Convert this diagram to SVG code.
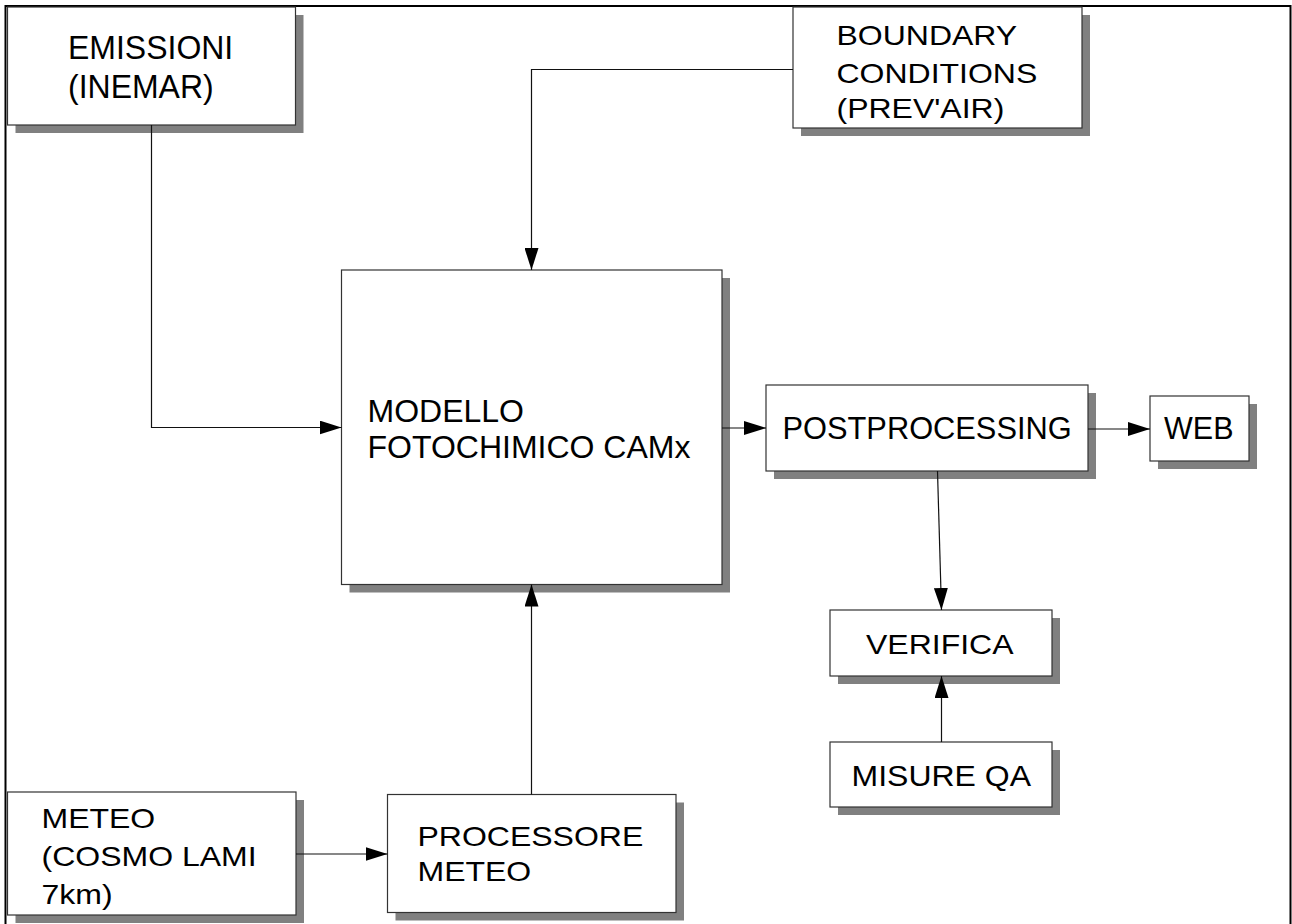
<svg xmlns="http://www.w3.org/2000/svg" width="1292" height="924" viewBox="0 0 1292 924">
<style>
.box{fill:#fff;stroke:#333;stroke-width:1.2}
.sh{fill:#808080}
.t{font-family:"Liberation Sans",Arial,sans-serif;font-size:32px;fill:#000}
.c{fill:none;stroke:#111;stroke-width:1.2}
</style>
<defs>
<marker id="ah" viewBox="0 0 22 14" refX="22" refY="7" markerWidth="22" markerHeight="14" orient="auto" markerUnits="userSpaceOnUse">
<path d="M0,0 L22,7 L0,14 Z" fill="#000"/>
</marker>
</defs>
<rect width="1292" height="924" fill="#fff"/>
<path d="M5.5,930 V6 H1290.5 V930" fill="none" stroke="#000" stroke-width="2"/>

<g id="emissioni">
<rect class="sh" x="15.5" y="15" width="288" height="118"/>
<rect class="box" x="7.5" y="7" width="288" height="118"/>
<text class="t" transform="translate(68,59) scale(1,1.04)">EMISSIONI</text>
<text class="t" transform="translate(68,98) scale(1,1.04)">(INEMAR)</text>
</g>

<g id="boundary">
<rect class="sh" x="801" y="15" width="289" height="121"/>
<rect class="box" x="793" y="7" width="289" height="121"/>
<text class="t" transform="translate(836.5,45) scale(1,0.86)">BOUNDARY</text>
<text class="t" transform="translate(836.5,83) scale(1,0.86)">CONDITIONS</text>
<text class="t" transform="translate(836.5,118) scale(1,0.86)">(PREV'AIR)</text>
</g>

<g id="modello">
<rect class="sh" x="349.5" y="278" width="380.5" height="314.5"/>
<rect class="box" x="341.5" y="270" width="380.5" height="314.5"/>
<text class="t" x="367.5" y="421.5">MODELLO</text>
<text class="t" x="367.5" y="457.5">FOTOCHIMICO CAMx</text>
</g>

<g id="postprocessing">
<rect class="sh" x="774" y="393" width="322" height="86"/>
<rect class="box" x="766" y="385" width="322" height="86"/>
<text class="t" x="782.5" y="438.5" style="font-size:30.8px">POSTPROCESSING</text>
</g>

<g id="web">
<rect class="sh" x="1158" y="404" width="99" height="65"/>
<rect class="box" x="1150" y="396" width="99" height="65"/>
<text class="t" x="1164" y="438.5" style="font-size:30.5px">WEB</text>
</g>

<g id="verifica">
<rect class="sh" x="838" y="618" width="222" height="66"/>
<rect class="box" x="830" y="610" width="222" height="66"/>
<text class="t" transform="translate(866,654) scale(1,0.88)">VERIFICA</text>
</g>

<g id="misure">
<rect class="sh" x="838" y="750" width="222" height="65"/>
<rect class="box" x="830" y="742" width="222" height="65"/>
<text class="t" transform="translate(851.5,786) scale(1,0.9)">MISURE QA</text>
</g>

<g id="meteo">
<rect class="sh" x="15.5" y="800" width="288.5" height="123"/>
<rect class="box" x="7.5" y="792" width="288.5" height="123"/>
<text class="t" transform="translate(41.5,827.5) scale(1,0.87)">METEO</text>
<text class="t" transform="translate(41.5,866) scale(1,0.87)">(COSMO LAMI</text>
<text class="t" transform="translate(41.5,904) scale(1,0.87)">7km)</text>
</g>

<g id="processore">
<rect class="sh" x="395.5" y="802.5" width="288.5" height="118"/>
<rect class="box" x="387.5" y="794.5" width="288.5" height="118"/>
<text class="t" transform="translate(417.5,846) scale(1,0.87)">PROCESSORE</text>
<text class="t" transform="translate(417.5,881) scale(1,0.87)">METEO</text>
</g>

<g id="connectors">
<path class="c" d="M151.5,125 V427.5 H341.5" marker-end="url(#ah)"/>
<path class="c" d="M793,69.5 H531.5 V270" marker-end="url(#ah)"/>
<path class="c" d="M531.5,794.5 V584.5" marker-end="url(#ah)"/>
<path class="c" d="M722,428 H766" marker-end="url(#ah)"/>
<path class="c" d="M1088,429 H1150" marker-end="url(#ah)"/>
<path class="c" d="M937.5,471 L941.5,610" marker-end="url(#ah)"/>
<path class="c" d="M941.5,742 V676" marker-end="url(#ah)"/>
<path class="c" d="M296,854 H387.5" marker-end="url(#ah)"/>
</g>
</svg>
